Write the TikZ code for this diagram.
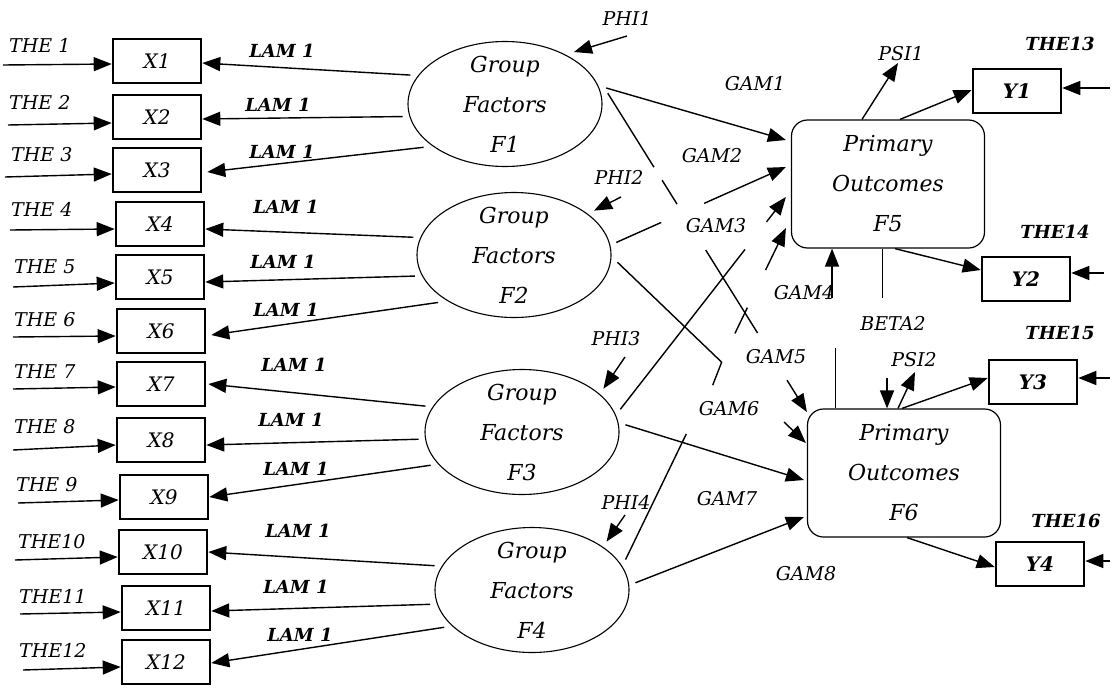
\documentclass[tikz,border=0pt]{standalone}
\usepackage{fontspec}
\setmainfont{DejaVu Serif}
\usetikzlibrary{arrows.meta,shapes.geometric,calc}
\begin{document}
\begin{tikzpicture}[x=1pt,y=-1pt,
  txt/.style={font=\fontsize{19}{22}\selectfont\itshape, inner sep=1pt},
  btxt/.style={font=\fontsize{18}{22}\selectfont\bfseries\itshape, inner sep=1pt},
  gtxt/.style={font=\fontsize{22}{40}\selectfont\itshape, align=center, inner sep=0pt},
  xbox/.style={draw, line width=2.6pt, minimum width=88pt, minimum height=44pt, inner sep=0pt, font=\fontsize{20}{22}\selectfont\itshape},
  ybox/.style={xbox, font=\fontsize{20}{22}\selectfont\bfseries\itshape},
  grp/.style={ellipse, draw, line width=1.1pt, minimum width=194pt, minimum height=125pt, inner sep=0pt, outer sep=7pt},
  prim/.style={draw, rounded corners=16pt, line width=1.2pt, minimum width=193pt, minimum height=128pt, inner sep=0pt, align=center, font=\fontsize{22}{40}\selectfont\itshape},
  arr/.style={-{Triangle[length=18pt,width=14pt]}, line width=1.4pt},
  ln/.style={line width=1.4pt},
  thin line/.style={line width=0.9pt}]
\useasboundingbox (0,0) rectangle (1113,688);

% observed X boxes
\foreach \i/\x/\y in {1/157/61, 2/157/117, 3/157/170, 4/160/224, 5/160/277, 6/161/331,
                      7/161/384, 8/161/440, 9/164/497, 10/163/552, 11/166/608, 12/166/662}
  \node[xbox] (X\i) at (\x,\y) {X\i};

% THE labels
\foreach \i/\t/\x/\y in {1/THE 1/8/45, 2/THE 2/8/102, 3/THE 3/10/155, 4/THE 4/10/209,
                         5/THE 5/13/267, 6/THE 6/13/320, 7/THE 7/13/372, 8/THE 8/13/427,
                         9/THE 9/15/485, 10/THE10/17/542, 11/THE11/18/596, 12/THE12/18/650}
  \node[txt, anchor=west] (th\i) at (\x,\y) {\t};

% THE arrows
\foreach \i/\sx/\sy/\d in {1/3/65/-3, 2/8/125/-6, 3/5/177/-4, 4/10/230/-5, 5/13/287/-6, 6/13/337/-5,
                           7/13/389/-3, 8/13/450/-5, 9/18/503/-3, 10/15/560/-5, 11/20/614/-4, 12/23/670/-5}
{
  \coordinate (ts\i) at (\sx,\sy);
  \draw[arr] (ts\i) -- ([yshift=\d pt]X\i.west);
}

% group factor ellipses
\node[grp] (F1) at (505,104) {};
\node[grp] (F2) at (514,255) {};
\node[grp] (F3) at (522,432) {};
\node[grp] (F4) at (532,590) {};
\node[gtxt] (F1t) at (F1) {Group\\Factors\\F1};
\node[gtxt] (F2t) at (F2) {Group\\Factors\\F2};
\node[gtxt] (F3t) at (F3) {Group\\Factors\\F3};
\node[gtxt] (F4t) at (F4) {Group\\Factors\\F4};

% LAM arrows
\foreach \i/\f/\a/\dx/\dy in {1/F1/163/0/-2, 2/F1/187/0/-2, 3/F1/208/5/-2, 4/F2/170/0/-5,
                              5/F2/192/0/-5, 6/F2/212/5/-4, 7/F3/165/2/0, 8/F3/184/0/-5,
                              9/F3/200/0/0, 10/F4/166/0/0, 11/F4/188/0/-3, 12/F4/203/0/-1}
  \draw[arr] (\f.\a) -- ([xshift=\dx pt,yshift=\dy pt]X\i.east);

% LAM labels
\foreach \i/\x/\y in {1/282/51, 2/278/105, 3/282/152, 4/286/207, 5/283/262, 6/286/310,
                      7/294/365, 8/291/420, 9/296/469, 10/298/531, 11/296/587, 12/300/635}
  \node[btxt] (lam\i) at (\x,\y) {LAM 1};

% PHI arrows and labels
\node[txt] (phi1) at (627,18) {PHI1};
\node[txt] (phi2) at (619,177) {PHI2};
\node[txt] (phi3) at (616,339) {PHI3};
\node[txt] (phi4) at (626,502) {PHI4};
\coordinate (ph1) at (627,36);
\coordinate (ph2) at (621,197);
\coordinate (ph3) at (625,357);
\coordinate (ph4) at (625,515);
\draw[arr] (ph1) -- (F1.37);
\draw[arr] (ph2) -- (F2.29);
\draw[arr] (ph3) -- (F3.28);
\draw[arr] (ph4) -- (F4.33);

% primary outcomes
\node[prim] (F5) at (888,184) {Primary\\Outcomes\\F5};
\node[prim] (F6) at (904,473) {Primary\\Outcomes\\F6};

% Y boxes
\node[ybox] (Y1) at (1017,91) {Y1};
\node[ybox] (Y2) at (1026,279) {Y2};
\node[ybox] (Y3) at (1033,382) {Y3};
\node[ybox] (Y4) at (1040,564) {Y4};
\node[btxt] (th13) at (1060,44) {THE13};
\node[btxt] (th14) at (1055,232) {THE14};
\node[btxt] (th15) at (1060,333) {THE15};
\node[btxt] (th16) at (1066,521) {THE16};
\coordinate (ye1) at (1110,88);
\coordinate (ye2) at (1104,273);
\coordinate (ye3) at (1110,378);
\coordinate (ye4) at (1110,561);
\draw[arr] (ye1) -- ([yshift=3pt]Y1.east);
\draw[arr] (ye2) -- ([yshift=6pt]Y2.east);
\draw[arr] (ye3) -- ([yshift=4pt]Y3.east);
\draw[arr] (ye4) -- ([yshift=3pt]Y4.east);

% GAM paths
% F1 -> F5
\draw[arr] (F1.9) -- ([xshift=-5pt,yshift=44pt]F5.west);
% F1 -> F6 (broken)
\coordinate (s16) at (F1.6);
\coordinate (e16) at ([yshift=61pt]F6.west);
\draw[ln] (s16) -- ($(s16)!0.232!(e16)$);
\draw[ln] ($(s16)!0.273!(e16)$) -- ($(s16)!0.348!(e16)$);
\draw[ln] ($(s16)!0.492!(e16)$) -- ($(s16)!0.752!(e16)$);
\draw[arr] ($(s16)!0.9!(e16)$) -- (e16);
% F2 -> F5 (broken)
\coordinate (s25) at (F2.7);
\coordinate (e25) at ([xshift=-5pt,yshift=17pt]F5.west);
\draw[ln] (s25) -- ($(s25)!0.265!(e25)$);
\draw[arr] ($(s25)!0.518!(e25)$) -- (e25);
% F2 -> F6 (broken)
\coordinate (s26) at (F2.356);
\coordinate (e26) at ([xshift=-1pt,yshift=30pt]F6.west);
\draw[ln] (s26) -- ($(s26)!0.553!(e26)$) -- ++(-9,23);
\draw[arr] ($(s26)!0.884!(e26)$) -- (e26);
% F3 -> F5 (broken)
\coordinate (s35) at (F3.13.6);
\coordinate (e35) at ([xshift=-5pt,yshift=-13pt]F5.west);
\draw[ln] (s35) -- ($(s35)!0.753!(e35)$);
\draw[arr] ($(s35)!0.883!(e35)$) -- (e35);
% F3 -> F6
\draw[arr] (F3.4) -- ([xshift=-3pt,yshift=-7pt]F6.west);
% F4 -> F5 (broken)
\coordinate (s45) at (F4.18);
\coordinate (e45) at ([xshift=-5pt,yshift=-44pt]F5.west);
\draw[ln] (s45) -- ($(s45)!0.379!(e45)$);
\draw[ln] ($(s45)!0.682!(e45)$) -- ($(s45)!0.76!(e45)$);
\draw[arr] ($(s45)!0.873!(e45)$) -- (e45);
% F4 -> F6
\draw[arr] (F4.4) -- ([xshift=-3pt,yshift=-44pt]F6.west);

% GAM labels
\node[txt] (g1) at (755,84) {GAM1};
\node[txt] (g2) at (712,156) {GAM2};
\node[txt] (g3) at (716,226) {GAM3};
\node[txt] (g4) at (804,293) {GAM4};
\node[txt] (g5) at (776,357) {GAM5};
\node[txt] (g6) at (729,409) {GAM6};
\node[txt] (g7) at (727,499) {GAM7};
\node[txt] (g8) at (806,574) {GAM8};

% GAM4 vertical arrow
\coordinate (g4s) at (832,298);
\draw[arr] (g4s) -- ([xshift=-56pt]F5.south);

% BETA2
\node[txt] (beta) at (893,323) {BETA2};
\coordinate (b2a) at (882,298);
\coordinate (b2b) at (835,348);
\draw[thin line] ([xshift=-6pt]F5.south) -- (b2a);
\draw[thin line] (b2b) -- ([xshift=-69pt]F6.north);

% PSI
\node[txt] (psi1) at (901,54) {PSI1};
\node[txt] (psi2) at (914,360) {PSI2};
\coordinate (p1) at (898,63);
\coordinate (p2a) at (887,378);
\coordinate (p2b) at (915,372);
\draw[arr] ([xshift=-26pt]F5.north) -- (p1);
\draw[arr] (p2a) -- ([xshift=-17pt]F6.north);
\draw[arr] ([xshift=-6pt]F6.north) -- (p2b);

% outcomes to indicators
\draw[arr] ([xshift=12pt]F5.north) -- ([yshift=1pt]Y1.west);
\draw[arr] ([xshift=7pt]F5.south) -- ([yshift=9pt]Y2.west);
\draw[arr] ([xshift=-2pt]F6.north) -- ([yshift=4pt]Y3.west);
\draw[arr] ([xshift=3pt]F6.south) -- ([yshift=-3pt]Y4.west);
\end{tikzpicture}
\end{document}
